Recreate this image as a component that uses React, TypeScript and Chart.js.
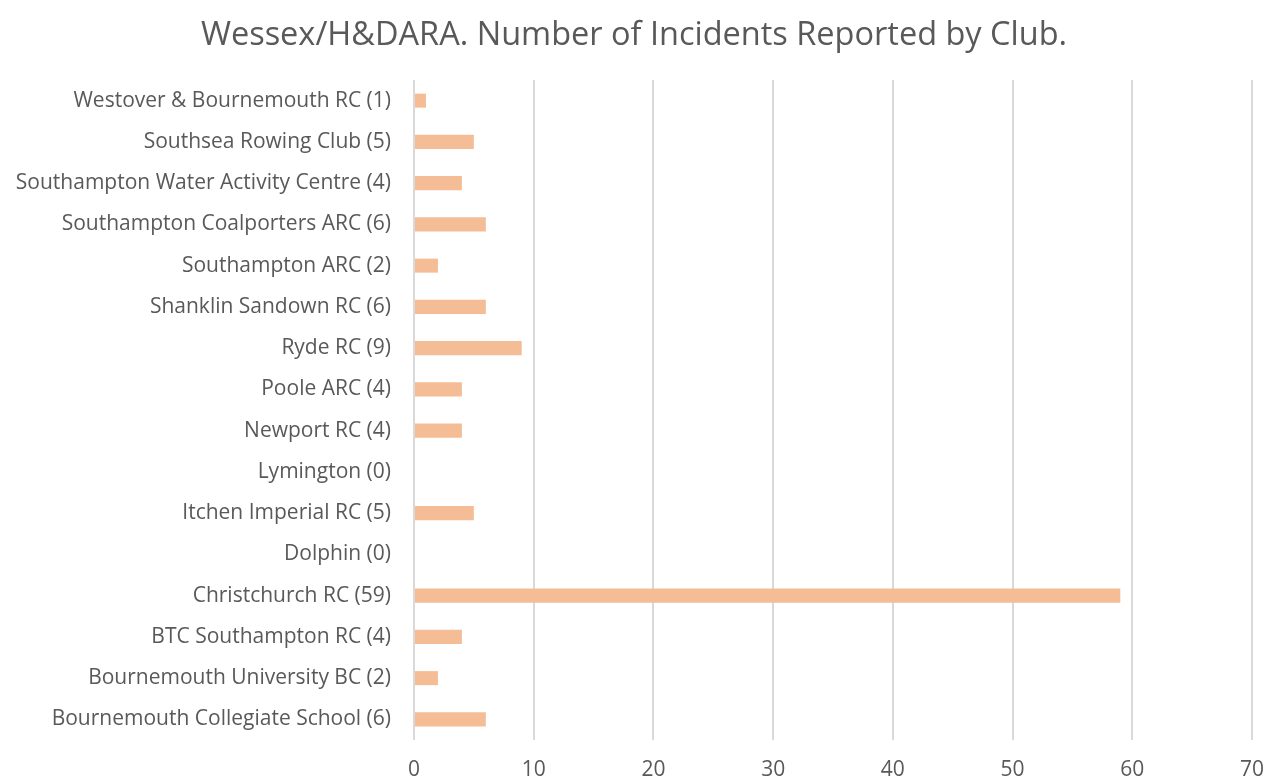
import React, { useEffect, useRef } from "react";
import { Chart, registerables } from "chart.js";

Chart.register(...registerables);

const clubs = [
  "Westover & Bournemouth RC (1)",
  "Southsea Rowing Club (5)",
  "Southampton Water Activity Centre (4)",
  "Southampton Coalporters ARC (6)",
  "Southampton ARC (2)",
  "Shanklin Sandown RC (6)",
  "Ryde RC (9)",
  "Poole ARC (4)",
  "Newport RC (4)",
  "Lymington (0)",
  "Itchen Imperial RC (5)",
  "Dolphin (0)",
  "Christchurch RC (59)",
  "BTC Southampton RC (4)",
  "Bournemouth University BC (2)",
  "Bournemouth Collegiate School (6)",
];

const incidents = [1, 5, 4, 6, 2, 6, 9, 4, 4, 0, 5, 0, 59, 4, 2, 6];

const titleText = "Wessex/H&DARA. Number of Incidents Reported by Club.";

export default function App() {
  const ref = useRef<HTMLCanvasElement | null>(null);

  useEffect(() => {
    if (!ref.current) return;
    const chart = new Chart(ref.current, {
      type: "bar",
      data: {
        labels: clubs,
        datasets: [
          {
            data: incidents,
            backgroundColor: "#F5BD96",
            borderWidth: 0,
            barPercentage: 0.68,
            categoryPercentage: 0.5,
          },
        ],
      },
      options: {
        indexAxis: "y",
        animation: false,
        responsive: false,
        layout: { padding: { left: 0, right: 0, top: 0, bottom: 0 } },
        plugins: {
          legend: { display: false },
          tooltip: { enabled: false },
          title: {
            display: true,
            text: titleText,
            color: "#595959",
            font: { family: "'Open Sans', sans-serif", size: 32.5, weight: "normal" },
            padding: { top: 16, bottom: 25 },
          },
        },
        scales: {
          x: {
            min: 0,
            max: 70,
            ticks: {
              stepSize: 10,
              color: "#595959",
              font: { family: "'Open Sans', sans-serif", size: 21 },
              padding: 17,
            },
            grid: { color: "#D9D9D9", lineWidth: 2, drawTicks: false },
            border: { display: false },
            afterFit: (scale: any) => {
              scale.height = 41;
              scale.paddingRight = 16;
              scale.paddingLeft = 0;
            },
          },
          y: {
            ticks: {
              color: "#595959",
              font: { family: "'Open Sans', sans-serif", size: 21 },
              padding: 23,
              autoSkip: false,
            },
            grid: { display: false, drawTicks: false },
            border: { display: false },
            afterFit: (scale: any) => {
              scale.width = 414;
            },
          },
        },
      },
    });
    return () => chart.destroy();
  }, []);

  return (
    <div style={{ position: "fixed", left: 0, top: 0, width: 1268, height: 781, background: "#fff" }}>
      <canvas ref={ref} width={1268} height={781} />
    </div>
  );
}
